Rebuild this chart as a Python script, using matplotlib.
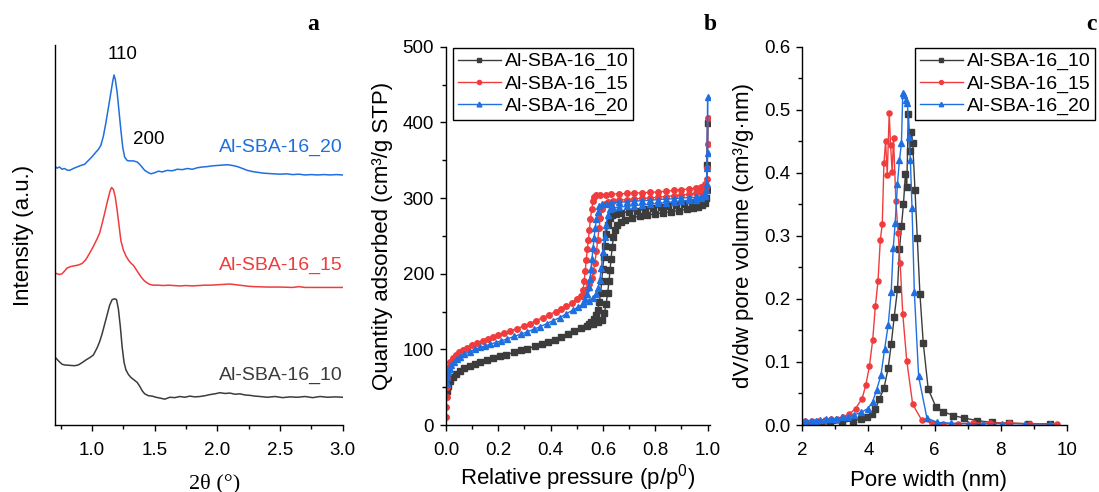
import matplotlib
matplotlib.use("Agg")
import matplotlib.pyplot as plt
from matplotlib.ticker import MultipleLocator, NullLocator

plt.rcParams["font.family"] = ["Liberation Sans", "DejaVu Sans"]
plt.rcParams["mathtext.fontset"] = "custom"
plt.rcParams["mathtext.rm"] = "Liberation Sans"
plt.rcParams["mathtext.it"] = "Liberation Sans:italic"

# ---------------------------------------------------------------- data
samples = ["Al-SBA-16_10", "Al-SBA-16_15", "Al-SBA-16_20"]
colors = ["#3c3c3c", "#f03c3c", "#1f6fe0"]
markers = ["s", "o", "^"]

# (a) low-angle XRD, offset traces: (2theta, intensity a.u.)
xrd_10 = [(0.70, 18.0), (0.72, 17.3), (0.74, 16.6), (0.76, 16.0), (0.78, 15.8), (0.82, 15.7),
          (0.86, 15.6), (0.89, 15.8), (0.92, 16.4), (0.95, 17.1), (0.98, 17.7), (1.01, 18.4),
          (1.04, 20.3), (1.06, 21.9), (1.08, 24.0), (1.10, 26.5), (1.12, 29.0), (1.14, 31.5),
          (1.16, 33.0), (1.18, 33.2), (1.195, 33.0), (1.21, 30.5), (1.225, 26.0), (1.24, 20.5),
          (1.255, 16.5), (1.27, 14.5), (1.29, 13.3), (1.31, 12.5), (1.33, 12.0), (1.36, 11.2),
          (1.38, 10.2), (1.40, 9.0), (1.42, 8.2), (1.45, 7.7), (1.48, 7.6), (1.51, 7.3),
          (1.54, 7.1), (1.58, 6.8), (1.62, 7.3), (1.66, 7.2), (1.70, 7.5), (1.74, 7.3),
          (1.78, 7.6), (1.82, 7.4), (1.86, 7.5), (1.90, 7.7), (1.94, 8.0), (1.98, 8.2),
          (2.02, 8.5), (2.06, 8.3), (2.10, 8.4), (2.14, 8.1), (2.18, 8.2), (2.22, 7.9),
          (2.26, 7.8), (2.30, 7.6), (2.34, 7.5), (2.40, 7.3), (2.46, 7.5), (2.52, 7.2),
          (2.58, 7.4), (2.64, 7.3), (2.70, 7.5), (2.76, 7.2), (2.82, 7.5), (2.88, 7.3),
          (2.94, 7.4), (3.00, 7.3)]
xrd_15 = [(0.70, 40.1), (0.72, 39.8), (0.74, 39.6), (0.76, 39.8), (0.78, 40.5), (0.80, 41.3),
          (0.83, 41.7), (0.86, 41.9), (0.89, 42.1), (0.92, 42.5), (0.95, 43.5), (0.98, 45.2),
          (1.01, 47.0), (1.04, 49.0), (1.06, 50.5), (1.08, 53.0), (1.10, 55.7), (1.12, 58.5),
          (1.14, 61.2), (1.155, 62.5), (1.17, 62.0), (1.185, 60.0), (1.20, 56.5), (1.215, 52.5),
          (1.23, 48.5), (1.25, 46.0), (1.27, 44.5), (1.29, 43.4), (1.31, 42.6), (1.33, 42.0),
          (1.35, 41.0), (1.37, 40.0), (1.39, 39.0), (1.41, 38.2), (1.43, 37.6), (1.46, 37.0),
          (1.49, 36.8), (1.53, 36.8), (1.57, 36.7), (1.61, 36.8), (1.65, 36.7), (1.70, 36.6),
          (1.75, 36.7), (1.80, 36.6), (1.85, 36.7), (1.90, 36.8), (1.95, 36.8), (2.00, 36.9),
          (2.05, 37.0), (2.10, 37.1), (2.15, 36.9), (2.20, 36.7), (2.25, 36.5), (2.30, 36.4),
          (2.40, 36.3), (2.50, 36.3), (2.60, 36.2), (2.65, 36.4), (2.70, 36.2), (2.80, 36.2),
          (2.90, 36.2), (3.00, 36.2)]
xrd_20 = [(0.70, 68.2), (0.72, 67.6), (0.74, 67.9), (0.76, 67.3), (0.78, 67.5), (0.80, 67.1),
          (0.82, 67.0), (0.85, 67.5), (0.88, 67.9), (0.91, 68.3), (0.94, 68.6), (0.97, 69.6),
          (1.00, 70.6), (1.03, 71.8), (1.05, 72.5), (1.07, 73.6), (1.09, 76.0), (1.11, 79.5),
          (1.13, 83.5), (1.15, 87.5), (1.165, 90.5), (1.175, 92.1), (1.185, 91.0), (1.20, 87.5),
          (1.215, 82.5), (1.23, 77.5), (1.245, 73.0), (1.26, 70.5), (1.28, 69.6), (1.30, 69.5),
          (1.33, 69.5), (1.36, 69.2), (1.38, 68.6), (1.40, 67.8), (1.42, 67.0), (1.45, 66.4),
          (1.47, 66.1), (1.50, 66.4), (1.53, 66.8), (1.56, 66.6), (1.60, 67.0), (1.64, 66.9),
          (1.68, 67.3), (1.72, 67.2), (1.76, 67.5), (1.80, 67.3), (1.84, 67.7), (1.88, 67.9),
          (1.92, 68.0), (1.96, 68.2), (2.00, 68.3), (2.04, 68.4), (2.08, 68.5), (2.12, 68.3),
          (2.16, 68.0), (2.20, 67.5), (2.24, 67.0), (2.28, 66.7), (2.32, 66.5), (2.36, 66.3),
          (2.40, 66.2), (2.45, 66.1), (2.50, 66.0), (2.55, 66.1), (2.60, 65.9), (2.65, 66.0),
          (2.70, 65.8), (2.75, 65.9), (2.80, 65.8), (2.85, 65.9), (2.90, 65.8), (2.95, 65.9),
          (3.00, 65.8)]
xrd_label_y = [13.0, 42.1, 73.0]
peak_labels = [("110", 1.242, 97.6), ("200", 1.455, 75.2)]

# (b) N2 isotherms: (p/p0, quantity adsorbed cm3/g STP)
ads_10 = [(0.003, 45), (0.008, 52), (0.015, 58), (0.025, 63), (0.038, 67), (0.052, 71), (0.07, 75),
          (0.09, 78), (0.11, 81), (0.13, 83.5), (0.155, 86), (0.18, 88.5), (0.205, 91), (0.23, 93),
          (0.26, 96), (0.285, 98.5), (0.31, 101), (0.34, 104), (0.365, 107), (0.39, 110),
          (0.415, 113), (0.44, 116.5), (0.465, 120), (0.49, 124), (0.515, 128), (0.54, 131.5),
          (0.56, 134), (0.58, 136), (0.595, 139), (0.605, 148), (0.612, 160), (0.618, 175),
          (0.623, 190), (0.627, 205), (0.631, 220), (0.635, 235), (0.64, 248), (0.646, 258),
          (0.655, 264), (0.668, 268), (0.685, 271), (0.71, 274), (0.74, 276), (0.77, 277.5),
          (0.80, 279), (0.83, 280.5), (0.86, 282), (0.89, 283.5), (0.92, 285), (0.945, 286.5),
          (0.965, 288.5), (0.98, 291), (0.99, 294), (0.996, 310), (0.999, 344), (1.0, 399)]
des_10 = [(0.995, 300), (0.98, 296.5), (0.96, 295.5), (0.94, 294.5), (0.91, 292.5), (0.88, 291),
          (0.85, 289.5), (0.82, 288), (0.79, 286.5), (0.76, 285), (0.73, 283.5), (0.70, 282),
          (0.67, 280.5), (0.65, 279), (0.635, 277), (0.625, 273), (0.618, 265), (0.612, 252),
          (0.607, 237), (0.603, 222), (0.599, 206), (0.595, 190), (0.591, 175), (0.586, 162),
          (0.58, 152), (0.573, 145), (0.565, 140), (0.555, 136), (0.545, 133)]
ads_15 = [(0.001, 11), (0.001, 24), (0.002, 37), (0.002, 50), (0.003, 62), (0.005, 70), (0.01, 77),
          (0.017, 83), (0.026, 88), (0.037, 92), (0.05, 96), (0.065, 99), (0.08, 102), (0.1, 105.5),
          (0.12, 108.5), (0.14, 111), (0.16, 114), (0.18, 116.5), (0.2, 119), (0.22, 121.5),
          (0.245, 124), (0.27, 127.5), (0.3, 131), (0.32, 134), (0.345, 138), (0.37, 142),
          (0.395, 146), (0.42, 150), (0.44, 153.5), (0.46, 157), (0.48, 161), (0.5, 166),
          (0.515, 170), (0.528, 175), (0.538, 180), (0.548, 186), (0.557, 194), (0.563, 203),
          (0.569, 214), (0.575, 230), (0.58, 245), (0.585, 260), (0.59, 273), (0.597, 285),
          (0.607, 292), (0.62, 295), (0.64, 296), (0.66, 297), (0.69, 298), (0.72, 299),
          (0.75, 299.5), (0.78, 300), (0.81, 301), (0.84, 302), (0.87, 303), (0.9, 304),
          (0.93, 305), (0.955, 306), (0.975, 308), (0.988, 311), (0.995, 315), (0.998, 340),
          (1.0, 372), (1.0, 406)]
des_15 = [(0.997, 325), (0.99, 318), (0.975, 314), (0.955, 313), (0.93, 312), (0.9, 311),
          (0.87, 310), (0.84, 309), (0.81, 308), (0.78, 307.5), (0.75, 307), (0.72, 306.5),
          (0.69, 306), (0.66, 305.5), (0.63, 305), (0.61, 304.5), (0.59, 304), (0.575, 303.5),
          (0.567, 302), (0.562, 296), (0.557, 285), (0.552, 272), (0.548, 258), (0.544, 245),
          (0.54, 232), (0.536, 218), (0.532, 204), (0.528, 190), (0.524, 179), (0.518, 170)]
ads_20 = [(0.002, 55), (0.005, 64), (0.009, 70), (0.014, 74), (0.021, 79), (0.03, 83.5),
          (0.042, 87), (0.055, 90.5), (0.07, 93.5), (0.09, 97), (0.11, 100), (0.13, 102.5),
          (0.15, 104.5), (0.17, 107), (0.19, 109), (0.21, 111), (0.235, 114), (0.26, 117),
          (0.285, 120), (0.31, 123), (0.335, 126.5), (0.36, 130), (0.385, 134), (0.41, 138),
          (0.435, 142), (0.46, 147), (0.485, 152), (0.505, 156), (0.525, 160), (0.545, 164),
          (0.56, 168), (0.572, 173), (0.581, 181), (0.588, 192), (0.594, 208), (0.6, 228),
          (0.606, 248), (0.612, 265), (0.619, 278), (0.628, 285), (0.64, 287), (0.66, 288),
          (0.69, 289), (0.72, 290), (0.75, 291), (0.78, 292), (0.81, 293), (0.84, 294),
          (0.87, 295), (0.9, 296), (0.93, 297), (0.955, 298), (0.975, 300), (0.988, 303),
          (0.995, 310), (0.998, 340), (1.0, 360), (1.0, 433)]
des_20 = [(0.997, 318), (0.99, 305), (0.975, 302), (0.955, 301), (0.93, 300.5), (0.9, 300),
          (0.87, 299), (0.84, 298.5), (0.81, 298), (0.78, 297), (0.75, 296.5), (0.72, 296),
          (0.69, 295), (0.66, 294.5), (0.63, 293.5), (0.61, 292.5), (0.595, 291.5), (0.586, 289),
          (0.58, 282), (0.575, 272), (0.57, 260), (0.566, 247), (0.562, 234), (0.558, 220),
          (0.554, 206), (0.55, 193), (0.545, 182), (0.539, 173), (0.532, 166), (0.522, 161)]

# (c) pore size distribution: (pore width nm, dV/dw cm3/g.nm)
psd_10 = [(2.08, 0.001), (2.33, 0.001), (2.58, 0.0015), (2.84, 0.002), (3.19, 0.004), (3.54, 0.007),
          (3.77, 0.009), (3.95, 0.013), (4.1, 0.018), (4.21, 0.025), (4.33, 0.041), (4.47, 0.058),
          (4.6, 0.091), (4.69, 0.128), (4.78, 0.171), (4.88, 0.215), (4.94, 0.279), (5.0, 0.315),
          (5.06, 0.35), (5.12, 0.398), (5.16, 0.378), (5.21, 0.494), (5.25, 0.435), (5.3, 0.465),
          (5.34, 0.448), (5.41, 0.372), (5.48, 0.296), (5.56, 0.207), (5.66, 0.13), (5.81, 0.057),
          (6.04, 0.029), (6.27, 0.021), (6.57, 0.015), (6.9, 0.011), (7.3, 0.007), (7.73, 0.004),
          (8.24, 0.003), (8.84, 0.002), (9.48, 0.002)]
psd_15 = [(2.08, 0.007), (2.28, 0.007), (2.48, 0.007), (2.69, 0.008), (2.86, 0.009), (3.04, 0.010),
          (3.22, 0.012), (3.41, 0.017), (3.61, 0.026), (3.81, 0.042), (3.92, 0.063), (4.03, 0.093),
          (4.13, 0.135), (4.21, 0.188), (4.29, 0.228), (4.36, 0.293), (4.42, 0.319), (4.47, 0.415),
          (4.52, 0.45), (4.57, 0.397), (4.63, 0.495), (4.67, 0.444), (4.72, 0.401), (4.76, 0.455),
          (4.83, 0.356), (4.9, 0.304), (4.96, 0.257), (5.04, 0.176), (5.16, 0.102), (5.34, 0.033),
          (5.61, 0.008), (5.92, 0.003), (6.27, 0.002), (6.72, 0.002), (7.18, 0.003), (7.68, 0.003),
          (8.24, 0.003), (8.89, 0.002), (9.7, 0.002)]
psd_20 = [(2.08, 0.007), (2.26, 0.007), (2.41, 0.007), (2.55, 0.008), (2.72, 0.009), (2.86, 0.010),
          (3.02, 0.010), (3.19, 0.012), (3.37, 0.013), (3.57, 0.016), (3.78, 0.02), (3.98, 0.026),
          (4.13, 0.037), (4.25, 0.056), (4.38, 0.079), (4.49, 0.12), (4.6, 0.159), (4.69, 0.211),
          (4.75, 0.28), (4.81, 0.32), (4.88, 0.383), (4.94, 0.42), (5.0, 0.447), (5.04, 0.526),
          (5.08, 0.523), (5.14, 0.516), (5.18, 0.511), (5.23, 0.457), (5.27, 0.42), (5.32, 0.344),
          (5.39, 0.211), (5.52, 0.077), (5.77, 0.011), (6.09, 0.004), (6.5, 0.003), (7.0, 0.002),
          (7.48, 0.002), (8.05, 0.002), (8.74, 0.002), (9.48, 0.002)]

# ---------------------------------------------------------------- layout
W, H = 1099, 492
fig = plt.figure(figsize=(W / 100, H / 100), dpi=100)


def axes_px(left, top, right, bottom):
    return fig.add_axes([left / W, 1 - bottom / H, (right - left) / W, (bottom - top) / H])


TICK_FS = 13.5
LABEL_FS = 16
LEGEND_FS = 14


def style(ax):
    for s in ("top", "right"):
        ax.spines[s].set_visible(False)
    for s in ("left", "bottom"):
        ax.spines[s].set_linewidth(1.0)
    ax.tick_params(which="both", direction="out", width=1.0, labelsize=TICK_FS)
    ax.tick_params(axis="x", which="both", pad=7.5)
    ax.tick_params(axis="y", which="both", pad=4)
    ax.tick_params(which="major", length=4.5)
    ax.tick_params(which="minor", length=2.6)


def xy(pairs):
    return [p[0] for p in pairs], [p[1] for p in pairs]


def add_legend(ax, x0):
    h, lab = ax.get_legend_handles_labels()
    leg = ax.legend(h, lab, loc="upper left", bbox_to_anchor=(x0, 0.997), borderaxespad=0,
                    fontsize=LEGEND_FS, frameon=True, fancybox=False, edgecolor="black",
                    framealpha=1, handlelength=2.2, handletextpad=0.2, labelspacing=0.22,
                    borderpad=0.25, markerscale=0.75)
    leg.get_frame().set_linewidth(1.0)


# ---------------------------------------------------------------- (a)
axa = axes_px(54.5, 45, 342.7, 425)
style(axa)
for trace, col in zip([xrd_10, xrd_15, xrd_20], colors):
    x, y = xy(trace)
    axa.plot(x, y, color=col, lw=1.1)
for name, col, ly in zip(samples, colors, xrd_label_y):
    axa.text(3.0, ly, name, color=col, fontsize=14, ha="right", va="center")
for txt, px, py in peak_labels:
    axa.text(px, py, txt, fontsize=13.5, ha="center", va="center")
axa.set_xlim(0.7, 3.0)
axa.set_ylim(0, 100)
axa.xaxis.set_major_locator(MultipleLocator(0.5))
axa.xaxis.set_minor_locator(MultipleLocator(0.25))
axa.yaxis.set_major_locator(NullLocator())
axa.set_xticks([1.0, 1.5, 2.0, 2.5, 3.0])
axa.set_ylabel("Intensity (a.u.)", fontsize=LABEL_FS)
axa.set_xlabel("2θ (°)", fontsize=LABEL_FS, family=["Liberation Serif", "DejaVu Serif"])
axa.yaxis.set_label_coords(-0.071, 0.5)
axa.xaxis.set_label_coords(0.557, -0.13)

# ---------------------------------------------------------------- (b)
axb = axes_px(446, 46.7, 710, 425)
style(axb)
for ads, des, col, mk, name in zip([ads_10, ads_15, ads_20], [des_10, des_15, des_20],
                                   colors, markers, samples):
    ms = 4.6 if mk == "^" else 4.0
    x, y = xy(ads)
    axb.plot(x, y, color=col, lw=1.0, marker=mk, ms=ms, mec=col, mfc=col, label=name)
    x, y = xy(des)
    axb.plot([ads[-1][0]] + x, [ads[-1][1]] + y, color=col, lw=1.0, marker=mk, ms=ms,
             mec=col, mfc=col, markevery=list(range(1, len(x) + 1)))
axb.set_xlim(0, 1.009)
axb.set_ylim(0, 500)
axb.xaxis.set_major_locator(MultipleLocator(0.2))
axb.xaxis.set_minor_locator(MultipleLocator(0.1))
axb.yaxis.set_major_locator(MultipleLocator(100))
axb.yaxis.set_minor_locator(MultipleLocator(50))
axb.xaxis.set_major_formatter(plt.FuncFormatter(lambda v, _: f"{v:.1f}"))
axb.set_ylabel("Quantity adsorbed (cm³/g STP)", fontsize=LABEL_FS)
axb.set_xlabel(r"Relative pressure (p/p$^\mathrm{0}$)", fontsize=LABEL_FS)
axb.yaxis.set_label_coords(-0.20, 0.5)
axb.xaxis.set_label_coords(0.497, -0.098)
add_legend(axb, 0.027)

# ---------------------------------------------------------------- (c)
axc = axes_px(802.3, 46.7, 1066.7, 425)
style(axc)
for psd, col, mk, name in zip([psd_10, psd_15, psd_20], colors, markers, samples):
    x, y = xy(psd)
    axc.plot(x, y, color=col, lw=1.0, marker=mk, ms=4.2 if mk == "^" else 3.7,
             mec=col, mfc=col, label=name)
axc.set_xlim(2, 10)
axc.set_ylim(0, 0.6)
axc.xaxis.set_major_locator(MultipleLocator(2))
axc.xaxis.set_minor_locator(MultipleLocator(1))
axc.yaxis.set_major_locator(MultipleLocator(0.1))
axc.yaxis.set_minor_locator(MultipleLocator(0.05))
axc.yaxis.set_major_formatter(plt.FuncFormatter(lambda v, _: f"{v:.1f}"))
axc.set_ylabel("dV/dw pore volume (cm³/g·nm)", fontsize=LABEL_FS)
axc.set_xlabel("Pore width (nm)", fontsize=LABEL_FS)
axc.yaxis.set_label_coords(-0.183, 0.5)
axc.xaxis.set_label_coords(0.479, -0.118)
add_legend(axc, 0.426)

# ---------------------------------------------------------------- panel letters
for letter, fx in (("a", 313), ("b", 710), ("c", 1091)):
    fig.text(fx / W, 1 - 25 / H, letter, fontsize=17, fontweight="bold",
             family=["Liberation Serif", "DejaVu Serif"], ha="center", va="center")

fig.savefig("out.png", dpi=100)
